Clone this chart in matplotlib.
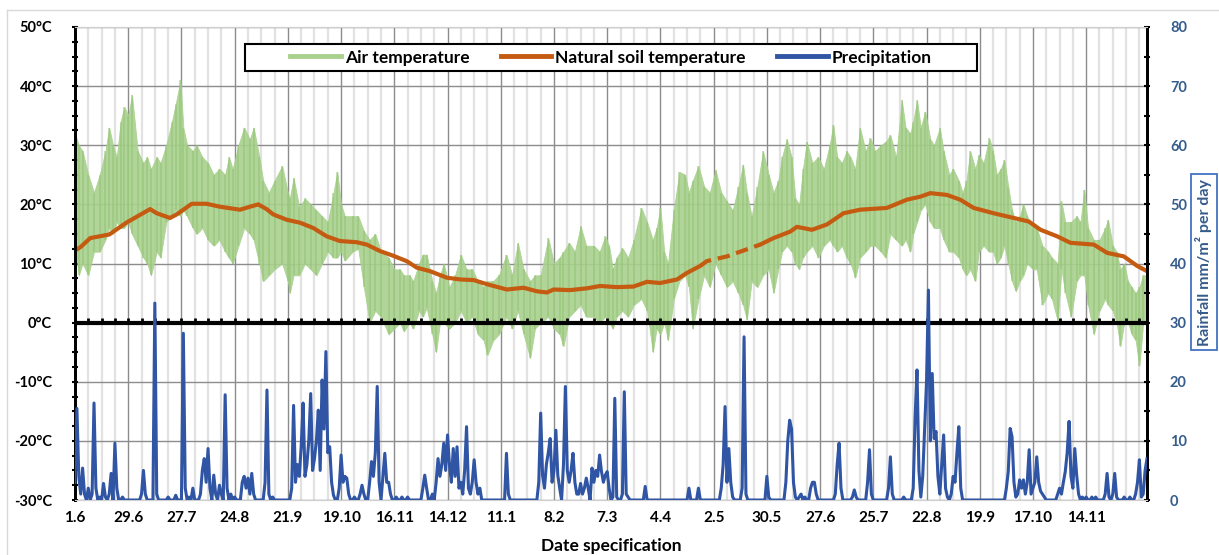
import numpy as np
import matplotlib.pyplot as plt
from matplotlib.patches import Rectangle
from matplotlib.lines import Line2D

plt.rcParams['font.family'] = ['Lato', 'DejaVu Sans']
plt.rcParams['font.weight'] = 'bold'

# ---- data (day 0 = 1 June, one value per reading) ----
tick_labels = ['1.6', '29.6', '27.7', '24.8', '21.9', '19.10', '16.11', '14.12', '11.1', '8.2',
               '7.3', '4.4', '2.5', '30.5', '27.6', '25.7', '22.8', '19.9', '17.10', '14.11']

# air temperature, daily upper / lower envelope
air_day = [0, 2, 4, 7, 10, 13, 16, 18, 20, 22, 24, 26, 28, 30, 33, 36, 38, 40, 43, 45, 48, 51, 53, 55.5, 57, 59,
           62, 64, 67, 70, 73, 76, 79, 81, 83, 86, 89, 92, 94, 97, 99, 102, 105, 109, 112, 113, 115, 118, 121,
           124, 127, 130, 133, 136, 138, 140, 142, 146, 149, 152, 155, 158, 161, 165, 168, 171, 173, 176, 178,
           181, 183, 185, 188, 190, 192, 194, 197, 200, 203, 206, 209, 212, 215, 217, 220, 223, 227, 230, 233,
           236, 239.5, 242, 245, 249, 252, 255, 257, 260, 263, 266, 269, 273, 276, 279, 281, 283, 285, 288, 291,
           294, 298, 301, 304, 306, 308, 310, 312, 315, 318, 321, 323, 325, 328, 331, 334, 337, 340, 343, 346,
           349, 351.5, 353.5, 356, 359, 362, 365, 367.5, 370, 372, 374.5, 377, 379, 381, 383, 385, 388, 391, 394,
           397, 399, 401, 403.5, 406, 408, 410.5, 413, 416, 418.5, 421, 424, 426.5, 429, 432, 435, 437, 439.5,
           441, 443, 445, 447.3, 450, 452, 455, 457, 460, 462, 465, 467, 469, 471, 473.7, 475.5, 478, 481, 483,
           485, 487, 489, 491, 493, 495, 497, 499, 501, 504, 506, 509, 512, 514, 517, 519, 521, 524, 527, 529,
           531, 533, 536, 539, 542, 543.5, 546, 548, 550, 552, 554, 556, 558, 560, 562, 564]
air_max = [32, 30, 29, 25, 22, 25, 29, 33, 30, 28, 34, 36.5, 35, 38.5, 29, 27, 28, 26, 28, 27, 30, 34, 37, 41, 33, 30,
           29, 30, 28, 27, 25, 26, 25, 28, 26, 30, 33, 31, 33, 28, 24, 22, 24, 26.5, 22, 21, 24.5, 19.5, 21,
           20, 19, 18, 17, 22, 25.5, 20, 18, 18, 18, 15.5, 14, 15, 12, 11, 9, 9, 8, 8, 7,
           10, 11.5, 11.5, 7, 5, 8, 10, 6, 8, 11.5, 9, 9, 7, 6, 7, 7, 8, 11.5, 8, 13.5,
           9, 7, 8, 8, 14.3, 10, 11, 12, 13.5, 12, 16.3, 13, 13, 12, 14.6, 13, 9, 11, 12.6, 11,
           14, 19.4, 17, 14, 16, 19.4, 12, 10, 19, 25.5, 25, 22, 24, 26.5, 23, 22, 25.8, 22, 20.5, 19,
           23, 26.7, 22, 18, 23, 29, 25, 22, 24, 28, 31, 28, 21, 20, 26, 30.6, 27, 28, 26,
           30, 33.4, 28, 27, 29, 28, 26, 32.9, 29, 31.2, 29, 30, 30.6, 31.7, 28, 37.6, 33, 32,
           34, 37.6, 33, 35.7, 31, 30, 32.9, 29, 25, 26, 24, 22, 24, 29, 26, 28.4, 27, 31.2, 29,
           25, 26, 27.5, 23, 19, 17, 18, 20, 18, 16, 16, 13, 12, 11, 10, 20.5, 17, 17, 18, 17,
           22.5, 16, 14, 14, 16, 17.4, 13, 12, 9, 10, 7, 6, 5, 6, 8, 8]
air_min = [13, 8, 10, 8, 12, 12, 14, 16, 15, 17, 16, 16, 17, 15, 13, 11, 10, 8, 12, 11, 17, 18, 19, 18, 19, 18,
           16, 15, 16, 14, 13, 14, 12, 11, 10, 13, 16, 15, 14, 10, 7, 8, 9, 10, 7, 5, 8, 8, 10,
           9, 8, 10, 12, 11, 11, 12, 10.5, 12, 12.5, 6, 0, 2, 1, -2, -1, 0, -1.5, 0, -1,
           2, 1, 2.5, -2, -5, 0, 0, -1, 0, 2, 0, 1, -2, -3, -5.5, -3, -2, 1, -1, 2,
           -2, -6, -1, 0, 1, -1, -2, -4, 1, 2, 3, 1, 1, 0, 1, 0, -1, 1, 2, 1,
           3, 4, 2, -5, -1, -2, 0, -3, 4, 7, 8, 6, -1, 4, 8, 6, 10, 8, 6, 7,
           5, 3, 0.5, 7, 6, 8, 9, 5, 9, 12, 13, 12, 10, 9, 11, 12, 13, 11, 13,
           14, 13, 12, 13, 11, 10, 7.6, 11, 12, 13, 13, 12, 11, 15, 14, 13, 14, 12,
           15, 17, 19, 20, 17, 16, 16, 14, 12, 12, 11, 9, 8, 9, 7, 12, 13, 12, 12,
           10, 11, 13, 10, 7, 5.3, 7, 8, 10, 9, 9, 3, 5, 4, 0.3, 9, 5, 1, 7, 8,
           8, 3, -2, 2, 4, 3, 2, 0, -4, 0, 0, -2, -3, -7.3, 0, 1]

# natural soil temperature (no readings between day 329 and 360.5 -> dashed)
soil_day = [0, 3, 8, 18, 27, 39.5, 43, 50, 53.5, 61.4, 69.3, 76.3, 86.8, 92, 96.4, 100.8, 104.3, 111.4, 118.4,
            125.4, 132.4, 139.4, 148.2, 153.5, 160.5, 167.5, 174.5, 179.8, 186.8, 195.6, 202.7, 209.7, 216.7,
            227.2, 236, 243, 248.3, 251.8, 260.5, 269.3, 276.3, 285, 293.8, 300.9, 307.9, 316.7, 321.9, 327.2,
            329, 332.4, 343, 353.5, 360.5, 367.5, 376.3, 379.8, 387.7, 395.6, 404.3, 413.1, 427.1, 437.7, 444.7,
            450, 458.7, 465.7, 472.8, 483.3, 493.9, 501.8, 508, 516.7, 523.7, 536, 543, 551.8, 558.8, 564]
soil_t = [12.2, 12.8, 14.3, 14.9, 16.9, 19.2, 18.5, 17.7, 18.3, 20.1, 20.1, 19.6, 19.1, 19.6, 20, 19.2, 18.3,
          17.4, 16.9, 16, 14.6, 13.8, 13.6, 13.2, 12.1, 11.3, 10.4, 9.3, 8.7, 7.6, 7.3, 7.2, 6.5,
          5.6, 5.9, 5.3, 5.1, 5.6, 5.5, 5.8, 6.2, 6, 6.1, 6.9, 6.7, 7.3, 8.4, 9.3,
          9.6, 10.4, 11.2, 12.4, 13.2, 14.3, 15.4, 16.2, 15.7, 16.6, 18.5, 19.1, 19.4, 20.8, 21.3,
          21.9, 21.6, 20.8, 19.4, 18.5, 17.7, 17.1, 15.7, 14.6, 13.5, 13.2, 11.8, 11.2, 9.6, 8.7]

# precipitation, rainy days only (mm per day)
rain_day = [0, 1, 2, 3, 4, 5, 7, 9, 10, 11, 13, 15, 16, 18, 19, 21, 22, 25, 35, 36, 37, 42, 43, 49, 53, 57, 58,
            60, 62, 66, 67, 68, 69, 70, 71, 73, 74, 76, 77, 79, 80, 82, 84, 88, 89, 90,
            91, 92, 93, 94, 100, 101, 102, 104, 114, 115, 116, 117, 118, 119, 120, 121, 122, 123, 124, 125,
            126, 127, 128, 129, 130, 131, 132, 133, 134, 135, 136, 139, 140, 141, 142, 143, 144, 147, 150,
            151, 152, 155, 156, 157, 158, 159, 160, 162, 163, 164, 165, 166, 169, 172, 175, 183, 184, 185,
            188, 190, 191, 192, 193, 194, 195, 196, 197, 198, 199, 200, 201, 202, 203, 204, 205, 206, 207,
            208, 209, 210, 211, 212, 213, 227, 228, 244, 245, 246, 247, 248, 249, 250, 251, 252, 253, 254,
            255, 257, 258, 259, 260, 261, 262, 263, 264, 265, 266, 267, 268, 269, 270, 272, 273, 274, 275,
            276, 277, 278, 279, 280, 281, 283,
            284, 285, 288, 289, 290, 291, 300, 323, 328, 340, 341, 342, 343, 344, 345, 346, 351, 352, 353,
            364, 365,
            374, 375, 376, 377, 378, 379, 381, 382, 384, 387, 388, 389, 390, 400, 401, 402, 403, 409, 410,
            411, 417, 418, 419, 428, 429, 430, 436, 441, 442, 443, 444, 445, 446, 447, 448, 449, 450, 451,
            452, 453, 454, 455, 456, 457, 458, 459, 461, 462, 463, 464, 465, 466,
            490, 491, 492, 493, 494, 495, 496, 497, 498, 499, 500, 501, 502, 503, 504, 505, 506, 507, 508,
            509, 510, 517, 518, 519, 520, 521, 522, 523, 524, 525, 526, 527, 528, 530, 532, 535, 537, 542,
            543, 544, 546, 547, 548, 552, 555, 558, 559, 560, 561, 562, 563, 564]
rain_mm = [3, 15.5, 4, 1, 5.4, 1, 2, 1, 16.4, 2, 0.5, 2.8, 0.5, 1, 4.5, 9.6, 2, 0.5, 1, 5, 1, 33.3, 1, 0.5, 0.8,
           28.2, 2, 0.5, 2, 1, 5, 7, 3, 8.7, 2, 4.2, 1, 2.5, 1, 17.8, 2, 1, 0.5, 3, 4, 2,
           3.7, 1, 4.5, 1, 3, 18.6, 1, 0.5, 2, 16, 3, 6, 4, 9, 16.4, 4, 6, 10, 18, 5,
           7, 10, 15.2, 5, 20.3, 12, 25.1, 8, 9, 3, 0.8, 2, 7.6, 3, 4, 3.7, 1, 0.5, 1,
           2.5, 1, 3, 6.5, 4, 8, 19.2, 3, 4, 7.9, 3, 3, 1, 0.5, 0.5, 0.5, 2, 4.2, 2,
           1, 3, 7, 4, 6, 9.6, 5, 11, 6, 3, 8.7, 4, 9, 2, 3, 1, 5, 12.4, 2,
           1, 3, 6.8, 3, 1, 2, 7.9, 1, 3, 14.7, 4.2, 2, 6, 8, 10.4, 3, 5, 11.8, 4.2,
           2, 6, 19.2, 5, 3, 5, 7.9, 3, 1, 1, 2.8, 1, 2, 3.7, 2, 5.4, 3, 5, 4,
           7.6, 4.8, 3, 4.2, 4.8, 2, 0.5,
           17.2, 0.5, 1, 18.3, 1, 0.5, 2.3, 2, 2, 2, 6, 15.8, 3, 8.7, 3, 0.5, 2, 27.6, 1,
           4, 0.5,
           3, 10, 13.5, 12, 3, 0.5, 0.5, 1, 0.5, 2, 3, 3, 1, 1, 6, 9.6, 2, 0.5, 1.7,
           0.5, 3, 8.5, 1, 2, 7.3, 1, 0.5, 2, 14, 22, 5, 0.5, 4, 12, 20, 35.5, 10, 21.4,
           10.4, 11.6, 4, 1, 6, 11, 2, 0.5, 1, 4, 3, 8, 12.4, 2,
           2, 4.8, 12.1, 10.7, 3, 0.5, 1, 3.4, 2, 3.4, 1, 3, 8.5, 1, 2, 3, 7.3, 3, 1.5,
           1, 0.5, 1, 2, 1, 3, 4.8, 8, 13.3, 4, 2, 8.7, 4.2, 1, 0.5, 0.5, 0.5, 0.5, 1,
           4.5, 0.5, 1, 4.5, 0.5, 0.5, 0.5, 1, 3, 6.8, 0.5, 1, 5, 7]

n_days = 565
green = '#A9D18E'
orange = '#C55A11'
blue = '#2F55A4'
axis_blue = '#355C8C'

rain = np.zeros(n_days)
rain[rain_day] = rain_mm
soil_day = np.array(soil_day)
soil_t = np.array(soil_t)

fig = plt.figure(figsize=(12.19, 5.55), dpi=100)
ax = fig.add_axes([75 / 1219, 55 / 555, 1072 / 1219, 473 / 555])
ax2 = ax.twinx()

# grid
tick_days = np.arange(0, 533, 28)
ax.set_xticks(tick_days)
ax.set_xticklabels(tick_labels)
ax.set_xticks(np.arange(0, n_days, 7), minor=True)
ax.set_yticks(np.arange(-30, 51, 10))
ax.set_yticklabels([f'{v}°C' for v in range(-30, 51, 10)])
ax.set_yticks(np.arange(-30, 50.1, 2.5), minor=True)
ax.set_axisbelow(True)
ax.grid(which='minor', axis='x', color='#e2e2e2', lw=1.6)
ax.grid(which='major', axis='x', color='#8c8c8c', lw=1)
ax.grid(which='major', axis='y', color='#8c8c8c', lw=1)

# air temperature band, daily swings drawn as streaks
ax.fill_between(air_day, air_min, air_max, color=green, lw=0.6, edgecolor=green, alpha=0.9, zorder=2)
ax.vlines(air_day, air_min, air_max, color='#8FC272', lw=1.3, alpha=0.55, zorder=2)

# soil temperature
m1 = soil_day <= 329
m2 = (soil_day >= 329) & (soil_day <= 360.5)
m3 = soil_day >= 360.5
ax.plot(soil_day[m1], soil_t[m1], color=orange, lw=3, zorder=3, solid_capstyle='round')
ax.plot(soil_day[m2], soil_t[m2], color=orange, lw=3, zorder=3, linestyle=(0, (3, 1.6)))
ax.plot(soil_day[m3], soil_t[m3], color=orange, lw=3, zorder=3, solid_capstyle='round')

# bold 0 line with weekly marks
ax.axhline(0, color='black', lw=3, zorder=4)
ax.vlines(np.arange(0, n_days, 7), 0, 0.8, color='black', lw=2, zorder=4)

ax.set_xlim(0, 564)
ax.set_ylim(-30, 50)

# precipitation
ax2.plot(np.arange(n_days), rain, color=blue, lw=2.2, zorder=3)
ax2.set_ylim(0, 80)
ax2.set_yticks(np.arange(0, 81, 10))
ax2.set_yticks(np.arange(0, 81, 5), minor=True)

# spines / ticks
for a in (ax, ax2):
    a.spines['top'].set_color('#d0d0d0')
    a.spines['bottom'].set_color('#d0d0d0')
    a.spines['left'].set_color('black')
    a.spines['right'].set_color('black')
    a.spines['left'].set_linewidth(2)
    a.spines['right'].set_linewidth(2)
ax.tick_params(axis='x', which='both', length=0, pad=8, labelsize=11, labelcolor='black')
ax.tick_params(axis='y', which='both', direction='inout', length=5, width=1.5, pad=14, labelsize=10.5)
ax2.tick_params(axis='y', which='both', direction='inout', length=5, width=1.5, pad=14,
                labelsize=10.5, labelcolor=axis_blue)

fig.text(611 / 1219, 1 - 546 / 555, 'Date specification', ha='center', va='center', fontsize=12.5,
         fontweight='bold')
fig.text(1204 / 1219, 1 - 262 / 555, 'Rainfall mm/m² per day', rotation=90, ha='center', va='center',
         fontsize=11.5, fontweight='bold', color=axis_blue,
         bbox=dict(boxstyle='square,pad=0.3', fc='white', ec='#4472C4', lw=1.3))

# legend in its own white box
box = Rectangle((170 / 1072, 429 / 473), 732 / 1072, 27 / 473, transform=ax2.transAxes,
                facecolor='white', edgecolor='black', lw=1.5, zorder=10)
ax2.add_patch(box)
handles = [Line2D([], [], color=green, lw=3.5), Line2D([], [], color=orange, lw=3.5),
           Line2D([], [], color=blue, lw=3.5)]
leg = ax2.legend(handles, ['Air temperature', 'Natural soil temperature', 'Precipitation'],
                 loc='center', bbox_to_anchor=(0.5, 442.5 / 473), ncol=3, frameon=False,
                 fontsize=12.5, handlelength=2.9, handletextpad=0.25, columnspacing=1.8)
leg.set_zorder(11)

# chart area border
fig.add_artist(Line2D([7 / 1219, 7 / 1219], [0, 1 - 10 / 555], color='#d9d9d9', lw=1))
fig.add_artist(Line2D([7 / 1219, 1], [1 - 10 / 555, 1 - 10 / 555], color='#d9d9d9', lw=1))

fig.savefig('out.png', dpi=100)
